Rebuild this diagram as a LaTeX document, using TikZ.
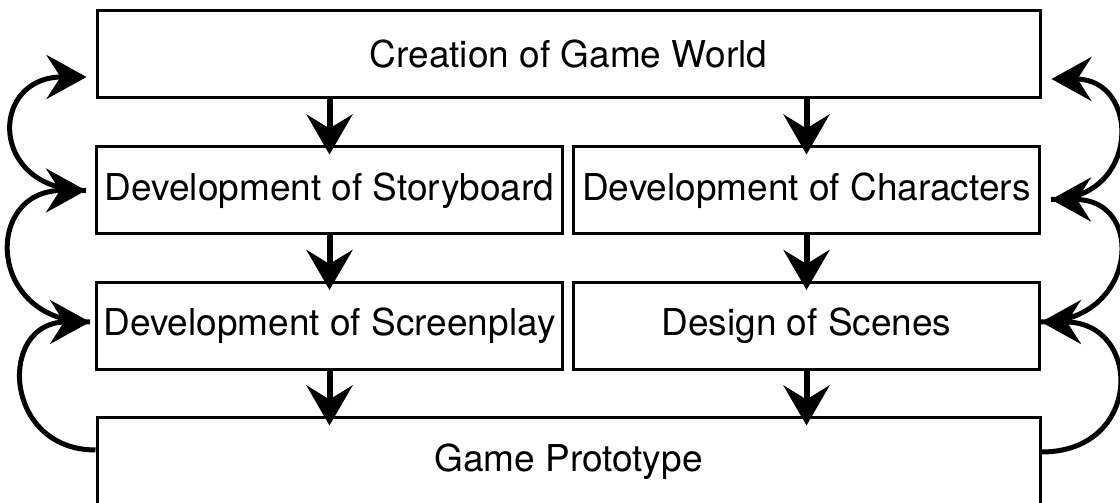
\documentclass[tikz,border=0pt]{standalone}
\usepackage{fontspec}
\setmainfont{TeX Gyre Heros}
\usetikzlibrary{arrows.meta}

\begin{document}
\begin{tikzpicture}[x=1pt,y=1pt,
	box/.style={draw,line width=3pt,inner sep=0pt,minimum height=87pt,font=\fontsize{37}{44}\selectfont},
	down/.style={line width=6pt,-{Stealth[length=40pt,width=46pt,inset=14pt]},shorten >=-9pt},
	back/.style={line width=5pt,-{Stealth[length=40pt,width=44pt,inset=14pt]},looseness=2}]
	\useasboundingbox (0,0) rectangle (1120,503);
	\def\wide{943pt}
	\def\half{466pt}
		\node[box,minimum width=\wide] (world) at (568.5,449) {Creation of Game World};
		\node[box,minimum width=\half] (story) at (329.5,312.5) {Development of Storyboard};
		\node[box,minimum width=\half] (chars) at (806.5,312.5) {Development of Characters};
		\node[box,minimum width=\half] (screen) at (329.5,177) {Development of Screenplay};
		\node[box,minimum width=\half] (scenes) at (806.5,177) {Design of Scenes};
		\node[box,minimum width=\wide,minimum height=88pt] (proto) at (568.5,41) {Game Prototype};
		\foreach \up/\dn in {story/screen,chars/scenes}{
			\draw[down] (\up.north |- world.south) -- (\up.north);
			\draw[down] (\up.south) -- (\dn.north);
			\draw[down] (\dn.south) -- (\dn.south |- proto.north);
		}
		% feedback on the left
		\draw[back,looseness=1.85] ([yshift=12pt]proto.west) to[out=180,in=180] ([xshift=-5pt,yshift=4pt]screen.west);
		\draw[back] ([xshift=-5pt,yshift=4pt]screen.west) to[out=180,in=180] ([xshift=-9pt]story.west);
		\draw[back,looseness=2.2] ([xshift=-9pt]story.west) to[out=180,in=180] ([xshift=-9pt,yshift=-23pt]world.west);
		% feedback on the right
		\draw[back] ([yshift=10pt]proto.east) to[out=0,in=0] ([yshift=4pt]scenes.east);
		\draw[back] ([yshift=4pt]scenes.east) to[out=0,in=0] ([xshift=10pt,yshift=-9pt]chars.east);
		\draw[back,looseness=1.9] ([xshift=10pt,yshift=-9pt]chars.east) to[out=0,in=0] ([xshift=10pt,yshift=-25pt]world.east);
\end{tikzpicture}
\end{document}
